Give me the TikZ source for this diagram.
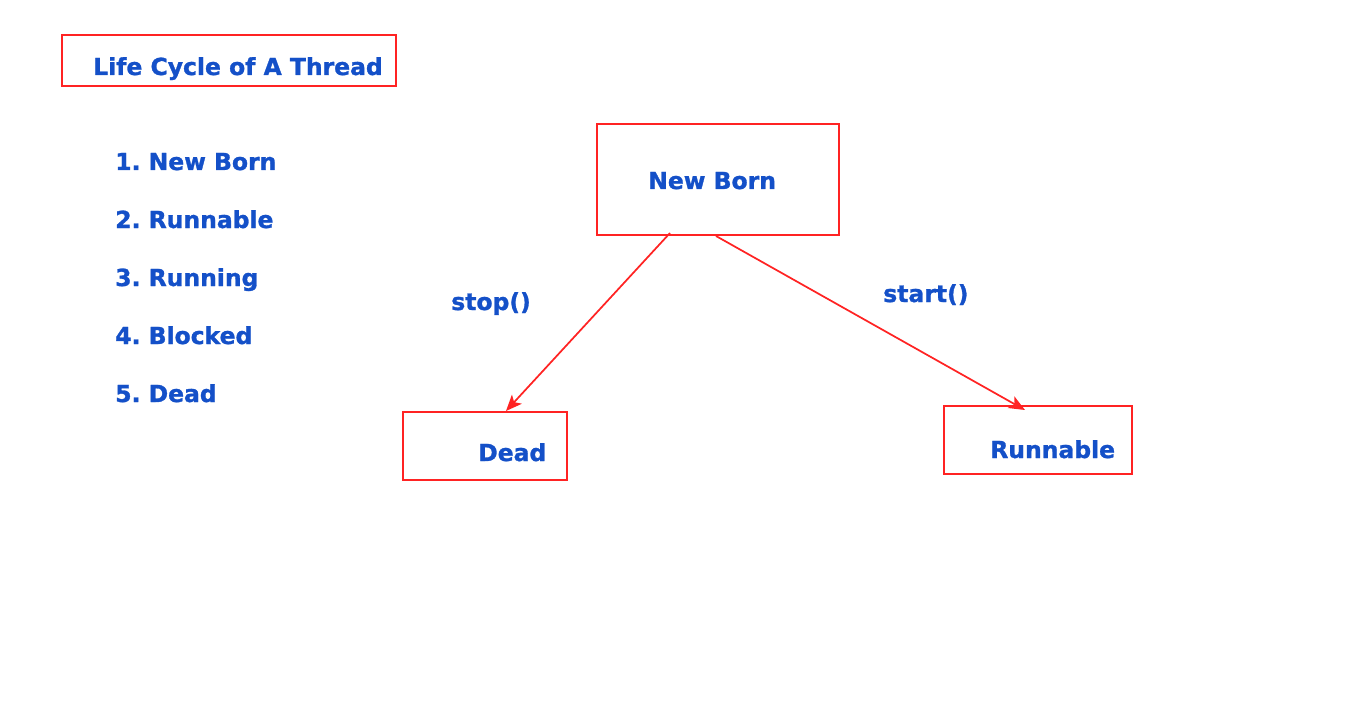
\documentclass[tikz,border=0pt]{standalone}
\usepackage{fontspec}
\setmainfont{DejaVu Sans}[BoldFont={DejaVu Sans Bold},BoldFeatures={FakeBold=1.2}]
\usetikzlibrary{arrows.meta}
\frenchspacing
\definecolor{txtblue}{RGB}{20,80,200}
\definecolor{boxred}{RGB}{255,35,35}
\begin{document}
\begin{tikzpicture}[x=0.75pt,y=-0.75pt,
  frame/.style={draw=boxred,line width=1.5pt},
  lbl/.style={anchor=base west,inner sep=0pt,text=txtblue,font=\fontsize{17.6}{20}\selectfont\bfseries},
  conn/.style={draw=boxred,line width=1.3pt,-{Stealth[length=12pt,width=10pt,inset=3pt]}}]
\useasboundingbox (0,0) rectangle (1366,706);
% boxes
\draw[frame] (62,35) rectangle (396,86);
\node[lbl] (title) at (93,75) {Life Cycle of A Thread};
\node[lbl] (l1) at (115,170) {1. New Born};
\node[lbl] (l2) at (115,228) {2. Runnable};
\node[lbl] (l3) at (115,286) {3. Running};
\node[lbl] (l4) at (115,344) {4. Blocked};
\node[lbl] (l5) at (115,402) {5. Dead};
\draw[frame] (597,124) rectangle (839,235);
\node[lbl] (nbt) at (648,189) {New Born};
\draw[frame] (403,412) rectangle (567,480);
\node[lbl] (deadt) at (478,461) {Dead};
\draw[frame] (944,406) rectangle (1132,474);
\node[lbl] (runt) at (990,458) {Runnable};
\node[lbl] (stop) at (451,310) {stop()};
\node[lbl] (start) at (883,302) {start()};
\coordinate (a1) at (670,233);
\coordinate (b1) at (506,411);
\coordinate (a2) at (716,236);
\coordinate (b2) at (1025,410);
\draw[conn] (a1) -- (b1);
\draw[conn] (a2) -- (b2);
\end{tikzpicture}
\end{document}
